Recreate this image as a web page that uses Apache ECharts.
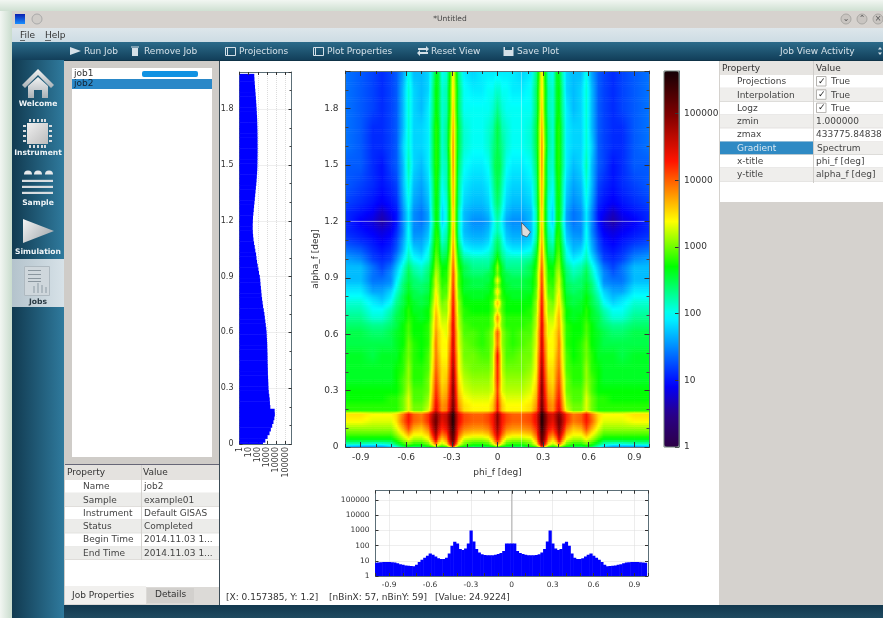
<!DOCTYPE html>
<html><head><meta charset="utf-8">
<style>html,body{margin:0;padding:0;background:#e8f0e8;overflow:hidden}#c{width:883px;height:618px;filter:blur(.5px)}</style>
<script src="https://cdn.jsdelivr.net/npm/echarts@6/dist/echarts.min.js"></script>
</head><body><div id="c"></div>
<script>
// ---- data ----
const zMin = 1, zMax = 433775.84838;
const phiTicks = [-0.9,-0.6,-0.3,0,0.3,0.6,0.9];
const decadeTicks = [1,10,100,1000,10000,100000];
const phiHalf = [0,.015,.03,.06,.10,.16,.22,.255,.275,.292,.31,.335,.365,.39,.405,.425,.455,.50,.55,.585,.62,.665,.70,.76,.82,.90,1.0];
const alphaRows = [0,.008,.02,.04,.07,.10,.14,.18,.195,.22,.26,.30,.36,.42,.49,.55,.61,.65,.69,.73,.77,.80,.83,.86,.89,.92,.96,1.0,1.05,1.10,1.15,1.20,1.25,1.30,1.40,1.50,1.60,1.70,1.80,1.90,2.0];
// log10(intensity) x 10, one row per alphaRows entry, one column per phiHalf entry (picture is mirror-symmetric in phi)
const logIntensityTenths = [
[27,26,25,24,24,24,25,27,31,39,33,27,26,27,29,27,25,24,24,25,24,20,17,15,15,15,16],
[33,31,29,27,26,26,28,31,37,46,39,31,29,31,35,31,28,26,26,27,26,22,19,17,17,17,18],
[39,36,33,29,28,28,30,34,42,50,44,35,32,35,40,35,30,28,28,30,28,25,22,21,21,22,22],
[43,40,36,32,31,31,32,37,45,52,47,38,35,39,45,39,33,31,31,33,31,28,26,26,26,26,26],
[46,43,40,36,35,35,36,40,47,53,49,41,39,43,48,43,36,34,34,37,34,31,29,29,29,29,29],
[48,45,42,39,38,38,39,42,48,55,50,44,42,46,50,46,39,36,37,41,37,33,31,31,31,31,31],
[49,46,43,41,40,40,41,44,49,56,51,46,44,48,51,48,42,39,40,43,40,35,33,33,33,34,34],
[49,46,43,41,40,40,41,44,49,56,51,46,45,48,50,47,42,39,40,43,39,35,34,34,34,35,35],
[43,39,36,34,34,34,35,39,45,52,46,39,38,42,45,40,33,30,30,33,30,28,28,28,28,28,28],
[43,39,36,34,34,34,35,38,45,51,45,39,38,42,44,39,32,30,30,33,30,28,28,28,28,28,28],
[42,38,35,33,33,33,34,37,44,50,44,38,37,41,43,38,31,29,29,33,30,28,28,27,27,27,27],
[41,37,33,32,32,32,33,36,43,50,43,37,36,40,42,37,30,29,29,32,29,27,27,27,27,27,27],
[42,38,33,31,31,31,32,35,42,49,42,36,35,39,41,36,30,28,28,31,29,27,26,26,26,26,26],
[42,38,32,30,30,30,31,34,41,48,41,35,35,38,40,35,29,28,28,31,28,27,26,26,26,26,26],
[43,38,32,29,29,30,30,34,40,46,40,34,34,37,39,34,29,27,28,30,28,26,26,26,25,26,26],
[39,36,31,29,28,29,30,33,39,46,39,34,34,36,39,34,28,27,28,30,27,26,25,25,25,25,25],
[40,37,31,29,28,29,29,33,39,45,38,33,34,36,38,33,28,27,27,29,27,26,25,24,24,25,25],
[35,33,30,28,28,28,29,32,38,45,38,33,33,35,37,33,28,27,27,29,27,25,24,23,23,24,24],
[38,35,30,28,28,28,28,32,38,44,37,32,32,35,37,32,27,26,27,28,26,25,23,21,21,23,23],
[33,31,29,27,27,27,28,31,37,44,36,31,31,34,36,32,27,26,26,28,26,24,22,20,20,22,22],
[36,34,29,27,27,27,27,31,37,43,36,31,30,33,35,31,26,25,26,27,25,23,20,18,19,21,21],
[32,30,28,27,26,26,27,30,36,43,35,30,29,33,35,30,26,25,25,27,25,22,19,17,18,20,20],
[35,32,28,26,26,26,26,30,36,42,35,29,29,32,34,30,25,24,25,26,24,21,18,16,16,19,19],
[31,29,27,26,25,25,26,29,35,42,34,29,28,32,33,29,25,24,24,26,24,20,16,15,15,18,18],
[34,31,27,25,25,25,26,29,35,41,34,28,28,31,33,29,24,23,24,25,23,19,15,14,14,17,17],
[30,28,26,25,24,24,25,29,35,41,33,28,27,31,32,28,24,22,23,25,22,18,15,13,14,17,17],
[31,28,26,23,23,23,25,28,34,40,33,27,27,30,31,27,23,21,22,24,21,17,14,12,14,17,17],
[28,26,24,22,22,22,23,27,33,39,32,26,25,29,30,26,21,19,20,22,19,15,12,11,12,15,16],
[25,24,22,20,19,19,20,25,32,38,31,24,23,28,29,25,20,17,18,21,17,13,11,10,11,13,14],
[24,23,21,18,17,17,18,23,31,37,30,23,21,28,28,24,18,16,16,20,16,12,10,9,10,11,12],
[22,21,20,17,16,16,17,22,30,37,29,22,20,27,28,23,17,15,15,20,15,11,9,8,9,10,11],
[22,21,19,16,15,15,17,22,30,36,29,21,18,26,27,22,16,14,15,19,15,10,8,6,8,9,11],
[23,22,20,17,16,16,17,22,30,36,29,21,18,26,27,23,16,14,15,19,15,10,9,7,9,10,11],
[24,23,21,18,17,17,18,23,30,37,29,21,19,26,27,23,17,15,16,20,16,11,10,9,10,11,12],
[25,24,22,19,18,18,19,23,31,37,30,22,20,26,28,23,18,16,17,21,17,12,11,10,11,12,13],
[25,25,23,20,19,19,20,24,31,38,30,22,21,27,28,24,19,17,18,22,17,13,12,10,11,13,13],
[25,24,23,21,20,20,21,25,31,38,31,23,21,27,28,24,19,18,18,21,18,13,12,11,11,13,14],
[25,24,22,21,20,20,21,25,31,37,30,23,21,27,28,24,19,18,18,21,17,13,12,11,11,13,14],
[23,22,21,20,20,20,20,24,30,36,29,22,21,26,27,23,19,17,18,21,17,13,12,11,12,13,14],
[21,21,20,20,19,19,20,24,30,35,29,22,21,26,27,23,18,17,18,21,17,13,12,11,12,13,14],
[19,19,19,19,19,18,19,23,29,35,28,21,20,26,26,22,18,17,17,20,16,13,12,11,12,13,14]
];
const crosshairPhi = 0.157385, crosshairAlpha = 1.2;
// vertical slice at crosshairPhi (left plot), keys start at alpha 0 with step 0.02
const alphaSlice = [355,630,1100,1800,2500,3500,4800,6000,6800,6500,
2200,2000,1900,1700,1500,1400,1350,1300,1250,1200,
1180,1150,1120,1100,1080,1050,1020,1000,950,910,
870,800,710,630,560,500,430,360,320,280,
250,230,210,190,178,160,130,112,95,80,
70,63,52,45,38,33,30,28,27,27,
28,29,32,35,38,42,46,50,55,60,
66,71,76,81,85,87,89,90,91,92,
92,91,91,90,89,87,85,83,80,76,
72,68,64,60,56,52,48,45,42,40];
// horizontal slice at crosshairAlpha (bottom plot), keys start at phi -1 with step 0.02
const phiSlice = [7.5,7.7,8,8.3,8.5,8.5,8.2,7.8,7,6,
5.5,5,4.7,4.5,4.4,5.5,8.5,12,16,22,
31,25,19,15,13,13,16,30,100,180,
140,60,52,65,140,1000,190,60,35,27,
24,23,23,23.5,25,28,33,45,140,140,
140,140,45,33,28,25,23.5,23,23,24,
27,35,60,190,1000,140,65,52,60,140,
180,100,30,16,13,13,15,19,25,31,
22,16,12,8.5,5.5,4.4,4.5,4.7,5,5.5,
6,7,7.8,8.2,8.5,8.5,8.3,8,7.7,7.5];
const spectrumStops = [[0,[45,0,70]],[.09,[40,0,140]],[.165,[0,0,255]],[.35,[0,255,255]],[.48,[0,255,0]],[.60,[255,255,0]],[.76,[255,20,0]],[.88,[130,0,0]],[1,[20,0,5]]];
const fontName = '"DejaVu Sans"';

// ---- colour scale ----
const logMax = Math.log10(zMax);
function tToColor(t){
  t=Math.max(0,Math.min(1,t));
  for(let i=1;i<spectrumStops.length;i++){
    if(t<=spectrumStops[i][0]){
      const a=spectrumStops[i-1],b=spectrumStops[i],f=(t-a[0])/(b[0]-a[0]);
      return 'rgb('+a[1].map((c,k)=>Math.round(c+(b[1][k]-c)*f)).join(',')+')';
    }
  }
  return 'rgb(20,0,5)';
}
const evenColors=[];for(let i=0;i<=50;i++)evenColors.push(tToColor(i/50));

// ---- heatmap cells, each with its four corner values ----
const phiFull=phiHalf.slice(1).reverse().map(v=>-v).concat(phiHalf);
const rowsFull=logIntensityTenths.map(r=>r.slice(1).reverse().concat(r).map(v=>v/10));
const cells=[];
for(let j=0;j<alphaRows.length-1;j++)for(let i=0;i<phiFull.length-1;i++){
  cells.push([phiFull[i],alphaRows[j],rowsFull[j][i],phiFull[i+1],alphaRows[j+1],rowsFull[j][i+1],rowsFull[j+1][i],rowsFull[j+1][i+1]]);
}
function renderCell(params,api){
  const p0=api.coord([api.value(0),api.value(1)]),p1=api.coord([api.value(3),api.value(4)]);
  const v00=api.value(2),v10=api.value(5),v01=api.value(6),v11=api.value(7);
  const h=p0[1]-p1[1],w=p1[0]-p0[0],K=Math.max(1,Math.ceil(h/2)),children=[];
  for(let k=0;k<K;k++){
    const t=(k+.5)/K,vL=v00+(v01-v00)*t,vR=v10+(v11-v10)*t;
    const n=Math.ceil(Math.abs(vR-vL)/.2)+1,stops=[];
    for(let s=0;s<=n;s++){const f=s/n;stops.push({offset:f,color:tToColor((vL+(vR-vL)*f)/logMax)});}
    children.push({type:'rect',shape:{x:p0[0],y:p0[1]-h*(k+1)/K,width:w+.6,height:h/K+.6},
      style:{fill:{type:'linear',global:true,x:p0[0],y:0,x2:p1[0],y2:0,colorStops:stops}},silent:true});
  }
  return {type:'group',children};
}
// projection bars: value runs along x on the left plot, along y on the bottom plot
function renderAlphaBar(params,api){
  const k=api.value(1),p0=api.coord([zMin,k-.01]),p1=api.coord([api.value(0),k+.01]);
  return {type:'rect',shape:{x:p0[0],y:p1[1],width:p1[0]-p0[0],height:p0[1]-p1[1]+.5},style:{fill:'#0000ff'},silent:true};
}
function renderPhiBar(params,api){
  const k=api.value(0),p0=api.coord([k-.01,zMin]),p1=api.coord([k+.01,api.value(1)]);
  return {type:'rect',shape:{x:p0[0],y:p1[1],width:p1[0]-p0[0]+.5,height:p0[1]-p1[1]},style:{fill:'#0000ff'},silent:true};
}

// ---- application chrome ----
const chrome=[];
function grad(x,y,x2,y2,a,b,c){const s=c?[{offset:0,color:a},{offset:.5,color:b},{offset:1,color:c}]:[{offset:0,color:a},{offset:1,color:b}];return {type:'linear',x,y,x2,y2,colorStops:s};}
function R(x,y,w,h,fill,extra){chrome.push(Object.assign({type:'rect',z:-1,shape:{x,y,width:w,height:h},style:{fill},silent:true},extra||{}));}
function T(text,x,y,size,fill,o){o=o||{};chrome.push({type:'text',z:o.z||-1,silent:true,style:{text,x,y:y+.5,font:(o.bold?'bold ':'')+size+'px '+fontName,fill,align:o.align||'left',verticalAlign:'middle'}});}
function P(points,fill,extra){chrome.push(Object.assign({type:'polygon',z:-1,shape:{points},style:{fill},silent:true},extra||{}));}
function C(cx,cy,r,fill,stroke){chrome.push({type:'circle',z:-1,shape:{cx,cy,r},style:{fill,stroke:stroke||null},silent:true});}
function O(x,y,w,h,stroke,z){chrome.push({type:'rect',z:z||-1,shape:{x,y,width:w,height:h},style:{fill:'none',stroke,lineWidth:1},silent:true});}

R(0,0,883,618,'#ecf2ec');
R(0,0,12,618,grad(0,0,1,0,'#f2f6f2','#c9dccd'));
R(0,0,883,11,grad(0,0,0,1,'#f2f6f2','#cfe0d2'));
R(12,11,871,17,'#d6d2ce');
R(12,28,871,14,grad(0,0,0,1,'#dde6eb','#cddce4'));
R(12,42,871,18,grad(0,0,0,1,'#2b6b8a','#123f5a'));
R(12,60,52,558,grad(0,0,1,0,'#113a50','#2f7a9d'));
R(64,60,155,545,'#cfccc8');
R(72,68,140,389,'#ffffff');
R(72,79,140,10,'#2a88c8');
R(142,71,56,6,'#1192e2',{shape:{x:142,y:71,width:56,height:6,r:2}});
T('job1',74,73,9,'#333');
T('job2',74,83.5,9,'#123');
// lower-left property table
R(65,464,154,123,'#ffffff');
R(65,464,154,1,'#667');
R(65,465,154,15,'#e4e2df');
const lrows=[['Name','job2'],['Sample','example01'],['Instrument','Default GISAS'],['Status','Completed'],['Begin Time','2014.11.03 1...'],['End Time','2014.11.03 1...']];
T('Property',67,472.5,9,'#333');T('Value',143,472.5,9,'#333');
lrows.forEach((r,i)=>{const y=480+i*13.3;
  if(i%2)R(65,y,154,13.3,'#ececea');
  R(65,y+12.8,154,.6,'#d8d6d3');
  T(r[0],83,y+6.4,9,'#444');T(r[1],144,y+6.4,9,'#444');});
R(141,465,1,95,'#d4d2cf');
R(65,587,154,18,'#dcdad7');
R(65,586,81,18,'#f1f0ee');
R(147,588,47,15,'#d2d0cd');
T('Job Properties',72,595,9,'#333');T('Details',155,594.5,9,'#333');
R(219,60,1,545,'#3c4c56');
R(220,60,499,545,'#ffffff');
// right panel
R(719,60,164,545,'#d5d2ce');
R(720,61,163,141,'#ffffff');
R(720,61,163,14,'#e6e4e1');
T('Property',722,68.5,9,'#333');T('Value',816,68.5,9,'#333');
const rrows=[['Projections','True',1],['Interpolation','True',1],['Logz','True',1],['zmin','1.000000'],['zmax','433775.84838'],['Gradient','Spectrum'],['x-title','phi_f [deg]'],['y-title','alpha_f [deg]']];
rrows.forEach((r,i)=>{const y=75+i*13.3;
  if(i%2)R(720,y,163,13.3,'#efeeec');
  if(r[0]==='Gradient')R(720,y,93,13.3,'#2f8ac4');
  R(720,y+12.8,163,.6,'#d6d4d1');
  T(r[0],737,y+6.4,9,r[0]==='Gradient'?'#d8e8f2':'#444');
  if(r[2]){R(817,y+2,9,9,'#fff');O(816.5,y+1.5,9.5,9.5,'#b5b3b0');T('✓',818,y+6,9,'#222',{bold:true});T(r[1],831,y+6.4,9,'#444');}
  else T(r[1],r[0]==='Gradient'?817:816,y+6.4,9,'#444');});
R(813,61,1,122,'#cfcdca');
// top bars
R(15,14,10,10,grad(0,0,0,1,'#0a1fb0','#1a90ff'));
C(37,19,5,'#cfccc8','#aaa');
T('*Untitled',450,19,7.5,'#444',{align:'center'});
[846,862,878].forEach((x,i)=>{C(x,19,5,'#c9c5c1','#aaa8a4');T(['⌄','⌃','×'][i],x,18.5,8,'#555',{align:'center'});});
T('File',20,35,9,'#333');T('Help',45,35,9,'#333');R(20,40,5,.7,'#333');R(45,40,6,.7,'#333');
// toolbar
const tb='#d4e0e8';
P([[70,47],[81,51],[70,55]],tb);T('Run Job',84,51,9,tb);
R(132,48,6,8,tb);R(131,46.5,8,1,tb);T('Remove Job',144,51,9,tb);
O(225.5,47.5,10,8,tb);R(227,47.5,1,8,tb);T('Projections',239,51,9,tb);
O(313.5,47.5,10,8,tb);R(315,47.5,1,8,tb);T('Plot Properties',327,51,9,tb);
P([[418,48],[426,48],[426,46],[429,49],[426,52],[426,50],[418,50]],tb);P([[428,54],[420,54],[420,56],[417,53],[420,50],[420,52],[428,52]],tb);T('Reset View',431,51,9,tb);
R(503.5,47,10,9,tb);R(505,47,7,3,'#1f5874');T('Save Plot',517,51,9,tb);
T('Job View Activity',780,51,9,tb);
P([[878,49.5],[880,47],[882,49.5]],tb);P([[878,52.5],[880,55],[882,52.5]],tb);
R(64,60,819,1,'#0f3347');
R(64,605,819,13,grad(0,0,0,1,'#12384e','#1f4a60'));
// sidebar icons
const ic=grad(0,0,0,1,'#f2f2f2','#a9b1b6');
const lab=(s,y,c)=>T(s,38,y,7.6,c||'#eef3f6',{bold:true,align:'center'});
P([[22,85],[38,69],[54,85],[51,88],[38,75],[25,88]],ic);
P([[28,86],[38,77],[48,86],[48,98],[42,98],[42,90],[34,90],[34,98],[28,98]],ic);
lab('Welcome',103.5);
R(27,123,21,21,grad(0,0,1,1,'#efefef','#bcbcbc'));
[29,33,37,41,44].forEach(x=>{R(x,119,2,3,'#d8dcdf');R(x,145,2,3,'#d8dcdf');});
[125,130,135,140].forEach(y=>{R(23,y,3,2,'#d8dcdf');R(49,y,3,2,'#d8dcdf');});
lab('Instrument',153);
[28,38,49].forEach(x=>chrome.push({type:'sector',z:-1,silent:true,shape:{cx:x,cy:174.5,r:4,startAngle:Math.PI,endAngle:0,clockwise:true},style:{fill:'#e6e9eb'}}));
[179.8,185.8,191.8].forEach(y=>R(22,y,31,2.2,'#d9dde0'));
lab('Sample',202.5);
P([[23,219],[54,231],[23,243]],grad(0,0,1,1,'#f4f4f4','#9aa1a6'));
lab('Simulation',252);
R(12,259,52,48,grad(0,0,1,0,'#b4c3cc','#d7e2e8'));
R(24,266,26,30,'#cfd7dc');O(24.5,266.5,25,29,'#aeb9c0');
[270,274,278,281].forEach(y=>R(28,y,13,1,'#8a969e'));
[[33,286,2,7],[37,283,2,10],[41,285,2,8],[45,287,2,6]].forEach(b=>R(b[0],b[1],b[2],b[3],'#aeb9c0'));
lab('Jobs',301.5,'#2a3a44');
// status line
T('[X: 0.157385, Y: 1.2]',226,597,9,'#333');T('[nBinX: 57, nBinY: 59]',329,597,9,'#333');T('[Value: 24.9224]',435,597,9,'#333');
// colour bar outline and pointer on top of the plot
O(664,71,15,376,'#6f7f78',20);
chrome.push({type:'polygon',z:60,silent:true,shape:{points:[[521.5,222.5],[530.5,232],[527,237],[522,235]]},style:{fill:'#dcdcdc',stroke:'#3c5060',lineWidth:.8}});

// ---- axes ----
const frame={show:true,lineStyle:{color:'#5c6f78',width:1},onZero:false};
const lbl=s=>({color:'#333',fontFamily:'DejaVu Sans',fontSize:s});
const tick=(l)=>({show:true,inside:true,length:l,lineStyle:{color:'#333',width:1}});
const minor=(n,l)=>({show:true,splitNumber:n,length:l,lineStyle:{color:'#444',width:1}});
const dotted={show:true,lineStyle:{color:'#dcdcdc',type:'dotted',width:1}};
const noLbl={show:false};
const plain=v=>String(v);
function lin(o){return Object.assign({type:'value',axisLine:frame,splitLine:{show:false},axisLabel:noLbl},o);}
function lg(o){return Object.assign({type:'log',logBase:10,min:zMin,max:zMax,axisLine:frame,splitLine:{show:false},axisLabel:noLbl},o);}
const tickPhi=l=>Object.assign(tick(l),{customValues:phiTicks});
const tickDec=l=>Object.assign(tick(l),{customValues:decadeTicks});
const lblPhi=(s,m)=>Object.assign(lbl(s),{margin:m,customValues:phiTicks,formatter:plain});
const lblDec=(s,m,o)=>Object.assign(lbl(s),{margin:m,customValues:decadeTicks,formatter:plain},o||{});
const tenthTicks=(g,pos)=>({type:'value',gridIndex:g,position:pos,min:-1,max:1,interval:.1,axisLine:{show:false},axisLabel:noLbl,splitLine:{show:false},axisTick:tick(3),z:10});
const hiddenY=g=>({type:'value',gridIndex:g,show:false,min:0,max:1});
const rectMain={left:345.5,width:304,top:71,height:376};
const rectBottom={left:375.5,width:272.5,top:490.5,height:85.5};

const option={
  animation:false,
  textStyle:{fontFamily:'DejaVu Sans'},
  graphic:{elements:chrome},
  grid:[rectMain,{left:239.5,width:52,top:72,height:372},rectBottom,{left:664,width:15,top:71,height:376},rectMain,rectBottom],
  xAxis:[
    lin({gridIndex:0,position:'bottom',min:-1,max:1,z:10,axisTick:tickPhi(5),name:'phi_f [deg]',nameLocation:'middle',nameGap:21,nameTextStyle:lbl(9),axisLabel:lblPhi(9,6)}),
    lin({gridIndex:0,position:'top',min:-1,max:1,z:10,axisTick:tickPhi(5)}),
    lg({gridIndex:1,position:'bottom',axisTick:tickDec(3),splitLine:dotted,axisLabel:lblDec(8,3,{rotate:90})}),
    lg({gridIndex:1,position:'top',axisTick:tickDec(3),z:10}),
    lin({gridIndex:2,position:'bottom',min:-1,max:1,axisTick:tickPhi(3),splitLine:dotted,axisLabel:lblPhi(7.5,5)}),
    lin({gridIndex:2,position:'top',min:-1,max:1,axisTick:tickPhi(3),z:10}),
    {type:'value',gridIndex:3,show:false,min:0,max:1},
    tenthTicks(4,'bottom'),tenthTicks(4,'top'),tenthTicks(5,'bottom'),tenthTicks(5,'top')
  ],
  yAxis:[
    lin({gridIndex:0,position:'left',min:0,max:2,interval:.3,z:10,axisTick:tick(5),minorTick:minor(3,3),name:'alpha_f [deg]',nameLocation:'middle',nameGap:24,nameTextStyle:lbl(9),
      axisLabel:Object.assign(lbl(9),{margin:7,showMaxLabel:false})}),
    lin({gridIndex:0,position:'right',min:0,max:2,interval:.3,z:10,axisTick:tick(5),minorTick:minor(3,3)}),
    lin({gridIndex:1,position:'left',min:0,max:2,interval:.3,axisTick:tick(3),minorTick:minor(3,2),splitLine:dotted,
      axisLabel:Object.assign(lbl(8),{margin:6,showMaxLabel:false})}),
    lin({gridIndex:1,position:'right',min:0,max:2,interval:.3,axisTick:tick(3),minorTick:minor(3,2),z:10}),
    lg({gridIndex:2,position:'left',axisTick:tickDec(3),splitLine:dotted,axisLabel:lblDec(7.5,6)}),
    lg({gridIndex:2,position:'right',axisTick:tickDec(3),z:10}),
    lg({gridIndex:3,position:'right',axisTick:tickDec(4),z:10,axisLabel:lblDec(9,5)}),
    hiddenY(4),hiddenY(5)
  ],
  visualMap:{type:'continuous',min:0,max:logMax,dimension:2,seriesIndex:0,left:664,top:71,itemWidth:15,itemHeight:376,padding:0,
    calculable:false,hoverLink:false,text:null,inRange:{color:evenColors},borderWidth:0,showLabel:false},
  series:[
    {name:'intensity',type:'custom',coordinateSystem:'cartesian2d',xAxisIndex:0,yAxisIndex:0,renderItem:renderCell,
      encode:{x:0,y:1},data:cells,clip:true,silent:true,z:2,progressive:0},
    {type:'line',xAxisIndex:0,yAxisIndex:0,data:[[crosshairPhi,0],[crosshairPhi,2]],showSymbol:false,silent:true,z:6,
      lineStyle:{color:'rgba(255,255,255,.4)',width:1}},
    {type:'line',xAxisIndex:0,yAxisIndex:0,data:[[-.97,crosshairAlpha],[.97,crosshairAlpha]],showSymbol:false,silent:true,z:6,
      lineStyle:{color:'rgba(255,255,255,.5)',width:1}},
    {type:'custom',coordinateSystem:'cartesian2d',xAxisIndex:2,yAxisIndex:2,renderItem:renderAlphaBar,encode:{x:0,y:1},clip:true,silent:true,progressive:0,
      data:alphaSlice.map((v,i)=>[v,i*.02])},
    {type:'line',xAxisIndex:4,yAxisIndex:4,data:[[0,1],[0,zMax]],showSymbol:false,silent:true,z:1,lineStyle:{color:'#b0b0b0',width:1}},
    {type:'custom',coordinateSystem:'cartesian2d',xAxisIndex:4,yAxisIndex:4,renderItem:renderPhiBar,encode:{x:0,y:1},clip:true,silent:true,progressive:0,
      data:phiSlice.map((v,i)=>[-1+i*.02,v])}
  ]
};
const chart=echarts.init(document.getElementById('c'),null,{width:883,height:618,renderer:'canvas'});
chart.setOption(option);
</script></body></html>
